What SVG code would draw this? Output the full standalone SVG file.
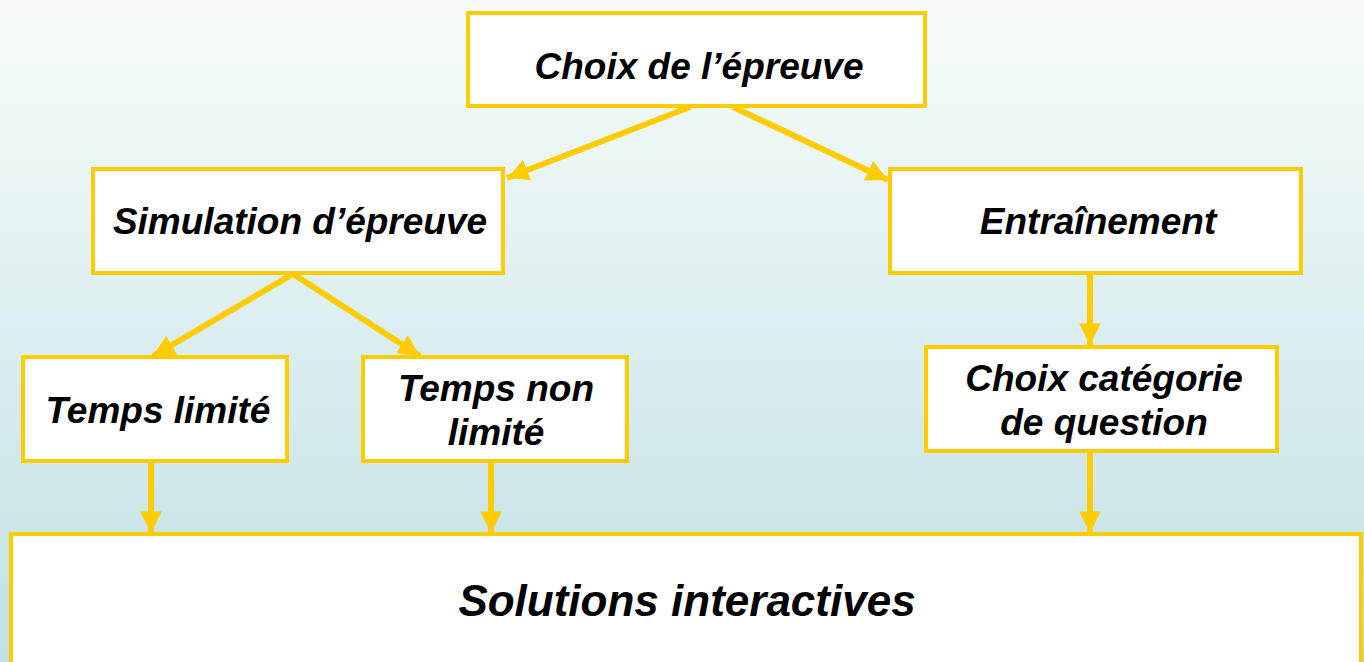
<svg xmlns="http://www.w3.org/2000/svg" width="1364" height="662" viewBox="0 0 1364 662">
<defs>
<linearGradient id="bg" x1="0" y1="0" x2="0" y2="1">
<stop offset="0" stop-color="#f8fcfc"/>
<stop offset="1" stop-color="#c0e1e4"/>
</linearGradient>
<marker id="ah" viewBox="0 0 10 10" refX="10" refY="5" markerWidth="3.6" markerHeight="3.8" orient="auto" markerUnits="strokeWidth">
<path d="M0,0 L10,5 L0,10 Z" fill="#ffcc00"/>
</marker>
<style>
.box{fill:#ffffff;stroke:#ffcc00;stroke-width:4}
.t{font-family:"Liberation Sans",Arial,sans-serif;font-weight:bold;font-style:italic;font-size:37px;fill:#000;text-anchor:middle}
.big{font-size:44px}
.c{stroke:#ffcc00;stroke-width:6;fill:none;marker-end:url(#ah)}
</style>
</defs>
<rect x="0" y="0" width="1364" height="662" fill="url(#bg)"/>
<g id="connectors">
<line class="c" x1="690" y1="107" x2="507" y2="178"/>
<line class="c" x1="733" y1="107" x2="888" y2="180"/>
<line class="c" x1="293" y1="274" x2="153" y2="356"/>
<line class="c" x1="293" y1="274" x2="420" y2="356"/>
<line class="c" x1="1090" y1="274" x2="1090" y2="345"/>
<line class="c" x1="151" y1="462" x2="151" y2="533"/>
<line class="c" x1="491" y1="462" x2="491" y2="533"/>
<line class="c" x1="1090" y1="452" x2="1090" y2="533"/>
</g>
<g id="choix-epreuve">
<rect class="box" x="468" y="13" width="457" height="93"/>
<text class="t" x="699" y="79">Choix de l’épreuve</text>
</g>
<g id="simulation">
<rect class="box" x="93" y="169" width="410" height="104"/>
<text class="t" x="300" y="234">Simulation d’épreuve</text>
</g>
<g id="entrainement">
<rect class="box" x="890" y="169" width="411" height="104"/>
<text class="t" x="1098" y="234">Entraînement</text>
</g>
<g id="temps-limite">
<rect class="box" x="23" y="357" width="264" height="104"/>
<text class="t" x="158" y="423">Temps limité</text>
</g>
<g id="temps-non-limite">
<rect class="box" x="363" y="357" width="264" height="104"/>
<text class="t" x="496" y="401">Temps non</text>
<text class="t" x="496" y="445">limité</text>
</g>
<g id="choix-categorie">
<rect class="box" x="926" y="347" width="351" height="104"/>
<text class="t" x="1104" y="391">Choix catégorie</text>
<text class="t" x="1104" y="435">de question</text>
</g>
<g id="solutions">
<rect class="box" x="11" y="534" width="1350" height="140"/>
<text class="t big" x="687" y="616">Solutions interactives</text>
</g>
</svg>
